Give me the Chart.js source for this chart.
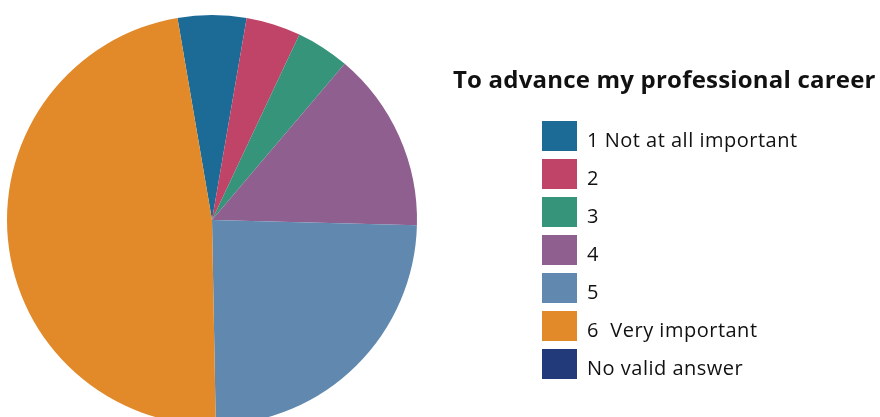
<!DOCTYPE html>
<html>
<head>
<meta charset="utf-8">
<script src="https://cdn.jsdelivr.net/npm/chart.js@4/dist/chart.umd.min.js"></script>
<style>
  html, body { margin: 0; padding: 0; background: #fff; overflow: hidden; }
  body { width: 880px; height: 417px; position: relative; font-family: "Open Sans", Lato, sans-serif; color: #111; }
  #pie { position: absolute; left: 0; top: 0; }
  #title { position: absolute; left: 453px; top: 62px; font-size: 24px; font-weight: 700; white-space: nowrap; letter-spacing: 0.2px; }
  #legend { position: absolute; left: 542px; top: 121px; }
  .item { height: 30px; margin-bottom: 8px; display: flex; align-items: center; }
  .swatch { width: 35px; height: 30px; margin-right: 10px; }
  .item span { font-size: 20px; white-space: pre; letter-spacing: 0.5px; position: relative; top: 3px; }
</style>
</head>
<body>
<canvas id="pie" width="880" height="440"></canvas>
<div id="title"></div>
<div id="legend"></div>
<script>
const chartTitle = "To advance my professional career";
const answers = ["1 Not at all important", "2", "3", "4", "5", "6  Very important", "No valid answer"];
const shares = [5.4, 4.3, 4.2, 14.2, 24.3, 47.6, 0];
const sliceColors = ["#1c6b97", "#c04468", "#359479", "#8e5f8f", "#6188ae", "#e28a2a", "#22397a"];

document.getElementById("title").textContent = chartTitle;

// Legend rows: colour block + answer text
const legend = document.getElementById("legend");
answers.forEach((label, i) => {
  const row = document.createElement("div");
  row.className = "item";
  row.innerHTML = `<div class="swatch" style="background:${sliceColors[i]}"></div><span>${label}</span>`;
  legend.appendChild(row);
});

// Pie sits at the left, bottom edge runs past the window
const ctx = document.getElementById("pie").getContext("2d");
new Chart(ctx, {
  type: "pie",
  data: {
    labels: answers,
    datasets: [{
      data: shares,
      backgroundColor: sliceColors,
      borderWidth: 0,
    }]
  },
  options: {
    responsive: false,
    devicePixelRatio: 1,
    animation: false,
    rotation: -9.7,
    layout: { padding: { left: 7, top: 15, right: 463, bottom: 15 } },
    plugins: {
      legend: { display: false },
      tooltip: { enabled: false },
    },
    events: [],
  }
});
</script>
</body>
</html>
